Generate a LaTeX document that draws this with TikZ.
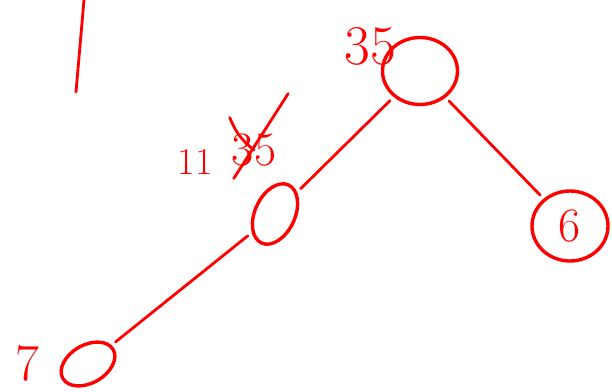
\documentclass[tikz,border=0pt]{standalone}
\usepackage{tikz}
\usetikzlibrary{shapes.geometric}
\definecolor{ink}{HTML}{FF0000}

\begin{document}
\begin{tikzpicture}[
  x=1pt,y=-1pt,
  vertex/.style={draw=ink,ellipse,line width=3.4pt,inner sep=0pt},
  edge/.style={draw=ink,line width=2.8pt,line cap=round},
  link/.style={edge,shorten <=5pt,shorten >=5pt},
  lbl/.style={text=ink,inner sep=0pt}
]
\useasboundingbox (0,0) rectangle (612,391);
\node[vertex,minimum width=75pt,minimum height=67pt] (root) at (420,71) {};
\node[vertex,minimum width=40pt,minimum height=64pt,rotate=-25] (mid) at (275,214) {};
\node[vertex,minimum width=76pt,minimum height=70pt,font=\fontsize{48}{48}\selectfont,text=ink] (right) at (570,226) {6};
\node[vertex,minimum width=58pt,minimum height=38pt,rotate=30] (leaf) at (88,364) {};
\node[lbl,font=\fontsize{56}{56}\selectfont] (rootkey) at (370,46) {35};
\node[lbl,font=\fontsize{38}{38}\selectfont] (sum) at (195,162) {11};
\node[lbl,font=\fontsize{48}{48}\selectfont] (oldkey) at (254,150) {35};
\node[lbl,font=\fontsize{52}{52}\selectfont] (leafkey) at (27,363) {7};
\coordinate (tick top) at (84,0);
\coordinate (tick bot) at (76,92);
\draw[link] (root) -- (mid);
\draw[link] (root) -- (right);
\draw[link] (mid) -- (leaf);
\draw[edge] ([shift={(2,12)}]oldkey.south west) -- ([shift={(12,-40)}]oldkey.north east);
\draw[edge] ([shift={(-2,-16)}]oldkey.north west) to[bend right=15] (oldkey.center);
\draw[edge] (tick top) -- (tick bot);
\end{tikzpicture}
\end{document}
